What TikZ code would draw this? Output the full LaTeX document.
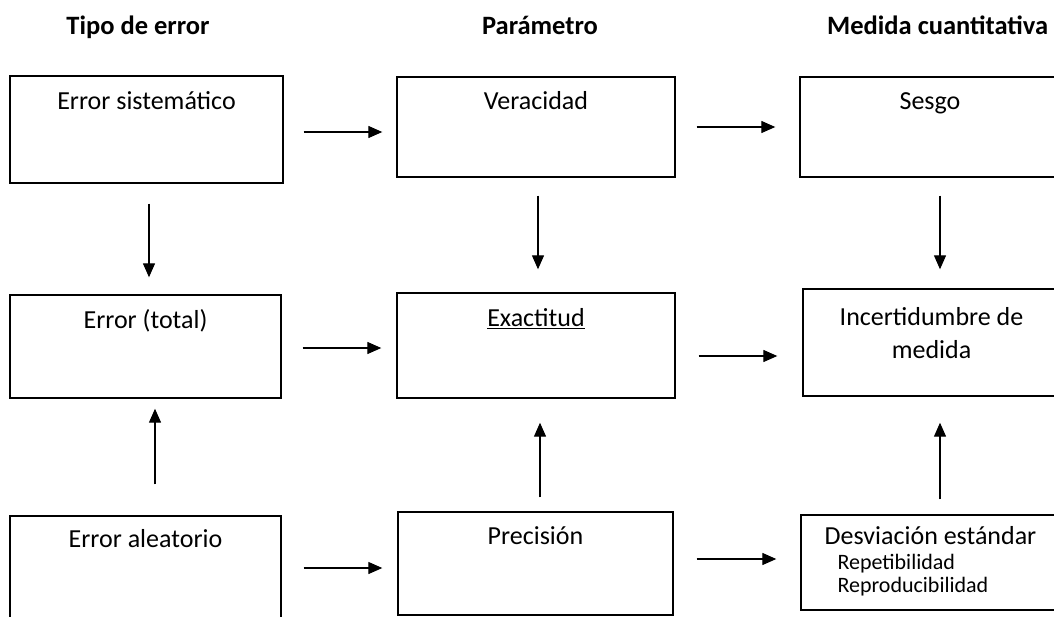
\documentclass[tikz,border=0pt]{standalone}
\usepackage{fontspec}
\setmainfont{Carlito}
\usetikzlibrary{arrows.meta}

\begin{document}
\begin{tikzpicture}[x=1pt, y=-1pt]
    % Definición de estilos
    \tikzstyle{caja}=[draw, line width=1.4pt, rectangle, inner sep=0pt]
    \tikzstyle{texto}=[anchor=base, inner sep=0pt, font=\fontsize{26}{33}\selectfont]
    \tikzstyle{chico}=[anchor=base west, inner sep=0pt, font=\fontsize{22}{24}\selectfont]
    \tikzstyle{titulo}=[anchor=base, inner sep=0pt, font=\fontsize{26.5}{30}\selectfont\bfseries]
    \tikzstyle{flecha}=[-{Triangle[length=14pt, width=12pt]}, line width=1.3pt]
    \useasboundingbox (0,0) rectangle (1054,616);
    % Títulos de las columnas
    \node[titulo] (tTipo) at (138,34) {Tipo de error};
    \node[titulo] (tParam) at (540,34) {Parámetro};
    \node[titulo, anchor=base west] (tMedida) at (827,34) {Medida cuantitativa};
    % Columna 1: tipo de error
    \node[caja, minimum width=273pt, minimum height=107pt] (sist) at (146.5,129.5) {};
    \node[texto] (sistT) at ([yshift=-34pt]sist.north) {Error sistemático};
    \node[caja, minimum width=271pt, minimum height=103pt] (tot) at (145.5,346.5) {};
    \node[texto] (totT) at ([yshift=-34pt]tot.north) {Error (total)};
    \node[caja, minimum width=271pt, minimum height=110pt] (alea) at (145.5,571) {};
    \node[texto] (aleaT) at ([yshift=-32pt]alea.north) {Error aleatorio};
    % Columna 2: parámetro
    \node[caja, minimum width=278pt, minimum height=100pt] (vera) at (536,127) {};
    \node[texto] (veraT) at ([yshift=-33pt]vera.north) {Veracidad};
    \node[caja, minimum width=278pt, minimum height=105pt] (exac) at (536,345.5) {};
    \node[texto] (exacT) at ([yshift=-34pt]exac.north) {\underline{Exactitud}};
    \node[caja, minimum width=275pt, minimum height=103pt] (prec) at (535.5,563.5) {};
    \node[texto] (precT) at ([yshift=-33pt]prec.north) {Precisión};
    % Columna 3: medida cuantitativa
    \node[caja, minimum width=260pt, minimum height=100pt] (sesg) at (930,127) {};
    \node[texto] (sesgT) at ([yshift=-33pt]sesg.north) {Sesgo};
    \node[caja, minimum width=257pt, minimum height=107pt] (ince) at (931.5,342.5) {};
    \node[texto] (inceT) at ([yshift=-37pt]ince.north) {Incertidumbre de};
    \node[texto] (inceT2) at ([yshift=-33pt]inceT.base) {medida};
    \node[caja, minimum width=259pt, minimum height=95pt] (desv) at (930.5,562.5) {};
    \node[texto] (desvT) at ([yshift=-30pt]desv.north) {Desviación estándar};
    \node[chico] (repe) at ([shift={(37,55)}]desv.north west) {Repetibilidad};
    \node[chico] (repro) at ([yshift=-23pt]repe.base west) {Reproducibilidad};
    % Flechas horizontales
    \draw[flecha, shorten <=20pt, shorten >=14pt] ([yshift=-2.5pt]sist.east) -- ([yshift=-2.5pt]sist.east -| vera.west);
    \draw[flecha, shorten <=21pt, shorten >=24pt] (vera.east) -- (vera.east -| sesg.west);
    \draw[flecha, shorten <=21pt, shorten >=15pt] ([yshift=-1.5pt]tot.east) -- ([yshift=-1.5pt]tot.east -| exac.west);
    \draw[flecha, shorten <=23pt, shorten >=25pt] ([yshift=-10.5pt]exac.east) -- ([yshift=-10.5pt]exac.east -| ince.west);
    \draw[flecha, shorten <=22pt, shorten >=15pt] ([yshift=3pt]alea.east) -- ([yshift=3pt]alea.east -| prec.west);
    \draw[flecha, shorten <=23pt, shorten >=24pt] ([yshift=4.5pt]prec.east) -- ([yshift=4.5pt]prec.east -| desv.west);
    % Flechas verticales
    \draw[flecha, shorten <=20pt, shorten >=17pt] ([xshift=2.5pt]sist.south) -- ([xshift=2.5pt]sist.south |- tot.north);
    \draw[flecha, shorten <=31pt, shorten >=10pt] ([xshift=9.5pt]alea.north) -- ([xshift=9.5pt]alea.north |- tot.south);
    \draw[flecha, shorten <=18pt, shorten >=23pt] ([xshift=2pt]vera.south) -- ([xshift=2pt]vera.south |- exac.north);
    \draw[flecha, shorten <=14pt, shorten >=24pt] ([xshift=4.5pt]prec.north) -- ([xshift=4.5pt]prec.north |- exac.south);
    \draw[flecha, shorten <=18pt, shorten >=19pt] ([xshift=10pt]sesg.south) -- ([xshift=10pt]sesg.south |- ince.north);
    \draw[flecha, shorten <=15pt, shorten >=26pt] ([xshift=9.5pt]desv.north) -- ([xshift=9.5pt]desv.north |- ince.south);
\end{tikzpicture}
\end{document}
